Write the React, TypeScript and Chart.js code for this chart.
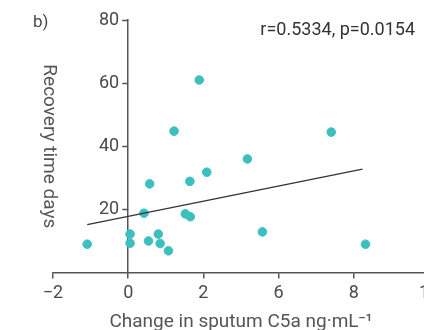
import React, { useEffect, useRef } from "react";
import { Chart, registerables } from "chart.js";

Chart.register(...registerables);

// Scatter data (x positions on the drawn axis, y = recovery time in days)
const changeC5a = [-1.09, 0.05, 0.05, 0.54, 0.42, 0.57, 0.8, 0.85, 1.07, 1.22, 1.52, 1.65, 1.64, 1.89, 2.09, 3.17, 3.57, 5.4, 6.31];
const recoveryDays = [9.0, 12.2, 9.3, 10.0, 18.8, 28.1, 12.2, 9.2, 6.9, 44.8, 18.6, 17.7, 28.9, 61.0, 31.8, 36.0, 12.9, 44.5, 9.0];

// Regression line end points
const fitX = [-1.09, 6.23];
const fitY = [15.2, 32.8];

// Axis ticks
const xTickValues = [-2, 0, 2, 4, 6, 8];
const xTickLabels = ["\u22122", "0", "2", "6", "8", "10"];
const yTickValues = [0, 20, 40, 60, 80];
const yTickLabels = ["", "20", "40", "60", "80"];

const panelLabel = "b)";
const statsLabel = "r=0.5334, p=0.0154";
const xTitle = "Change in sputum C5a ng\u00B7mL\u207B\u00B9";
const yTitle = "Recovery time days";

const FONT = "Roboto, 'DejaVu Sans Condensed', sans-serif";
const TICK_COLOR = "#4a4a4a";
const AXIS_COLOR = "#555555";

export default function App() {
  const ref = useRef<HTMLCanvasElement | null>(null);

  useEffect(() => {
    document.body.style.margin = "0";
    const canvas = ref.current;
    if (!canvas) return;

    const textPlugin = {
      id: "panelText",
      afterDraw(chart: any) {
        const ctx = chart.ctx;
        const xs = chart.scales.x;
        const ys = chart.scales.y;
        const x0 = xs.getPixelForValue(0);
        ctx.save();
        // y-axis tick marks and labels (left of the axis line at x = 0)
        ctx.strokeStyle = AXIS_COLOR;
        ctx.lineWidth = 1.5;
        ctx.fillStyle = TICK_COLOR;
        ctx.font = `18px ${FONT}`;
        ctx.textAlign = "right";
        ctx.textBaseline = "middle";
        yTickValues.forEach((v, i) => {
          if (!yTickLabels[i]) return;
          const py = Math.round(ys.getPixelForValue(v)) + 0.5;
          ctx.beginPath();
          ctx.moveTo(x0 - 6, py);
          ctx.lineTo(x0, py);
          ctx.stroke();
          ctx.fillText(yTickLabels[i], x0 - 9, py);
        });
        // panel label and statistics
        ctx.fillStyle = "#4a4a4a";
        ctx.font = `17px ${FONT}`;
        ctx.textAlign = "left";
        ctx.fillText(panelLabel, 33, 23);
        ctx.fillStyle = "#333333";
        ctx.font = `18px ${FONT}`;
        ctx.textAlign = "right";
        ctx.fillText(statsLabel, 415, 30);
        ctx.restore();
      },
    };

    const chart = new Chart(canvas, {
      type: "scatter",
      data: {
        datasets: [
          {
            type: "scatter",
            data: changeC5a.map((x, i) => ({ x, y: recoveryDays[i] })),
            backgroundColor: "#3dbfbf",
            borderColor: "#3dbfbf",
            pointRadius: 4.3,
            pointHoverRadius: 4.3,
            order: 2,
          },
          {
            type: "line",
            data: fitX.map((x, i) => ({ x, y: fitY[i] })),
            borderColor: "#333333",
            borderWidth: 1.3,
            pointRadius: 0,
            fill: false,
            order: 1,
          } as any,
        ],
      },
      options: {
        responsive: false,
        animation: false,
        events: [],
        layout: { padding: { left: 53, right: 41, top: 20, bottom: 0 } },
        plugins: { legend: { display: false }, tooltip: { enabled: false } },
        scales: {
          x: {
            type: "linear",
            min: -2,
            max: 8,
            afterBuildTicks: (axis: any) => {
              axis.ticks = xTickValues.map((v) => ({ value: v }));
            },
            ticks: {
              color: TICK_COLOR,
              font: { family: FONT, size: 18 },
              padding: 4,
              callback: (v: any) => {
                const i = xTickValues.indexOf(Number(v));
                return i >= 0 ? xTickLabels[i] : "";
              },
            },
            grid: { drawOnChartArea: false, drawTicks: true, tickLength: 6, color: AXIS_COLOR, lineWidth: 1.5 },
            border: { display: true, color: AXIS_COLOR, width: 1.5 },
            title: {
              display: true,
              text: xTitle,
              color: "#555555",
              font: { family: FONT, size: 19 },
              padding: { top: 3, bottom: 0 },
            },
          },
          y: {
            type: "linear",
            position: { x: 0 } as any,
            min: 0,
            max: 80,
            afterBuildTicks: (axis: any) => {
              axis.ticks = yTickValues.map((v) => ({ value: v }));
            },
            ticks: {
              color: "rgba(0,0,0,0)",
              font: { family: FONT, size: 18 },
              padding: 4,
              callback: (v: any) => {
                const i = yTickValues.indexOf(Number(v));
                return i >= 0 ? yTickLabels[i] : "";
              },
            },
            grid: { drawOnChartArea: false, drawTicks: false, color: AXIS_COLOR, lineWidth: 1.5 },
            border: { display: true, color: AXIS_COLOR, width: 1.5 },
            title: {
              display: true,
              text: yTitle,
              color: "#555555",
              font: { family: FONT, size: 19 },
              padding: { top: 40, bottom: 0 },
            },
          },
        },
      },
      plugins: [textPlugin],
    });

    return () => chart.destroy();
  }, []);

  return (
    <div style={{ position: "absolute", left: 0, top: 0, width: 424, height: 330, overflow: "hidden", background: "#fff" }}>
      <canvas ref={ref} width={470} height={334} style={{ display: "block" }} />
    </div>
  );
}
